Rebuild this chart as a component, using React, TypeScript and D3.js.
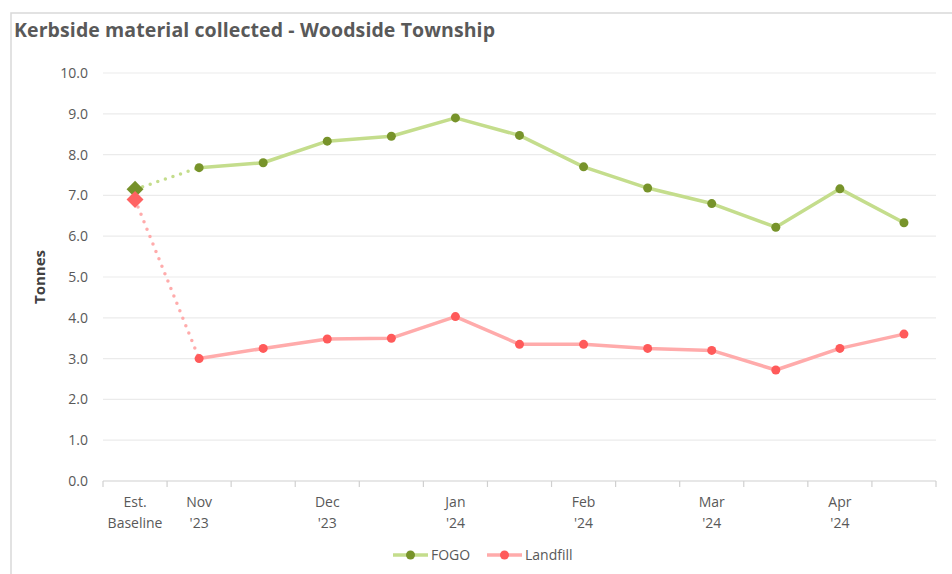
import React from "react";
import * as d3 from "d3";

const categories = ["Est. Baseline", "Nov '23", "", "Dec '23", "", "Jan '24", "", "Feb '24", "", "Mar '24", "", "Apr '24", ""];
const fogo = [7.15, 7.68, 7.8, 8.33, 8.45, 8.9, 8.47, 7.7, 7.18, 6.8, 6.22, 7.16, 6.33];
const landfill = [6.9, 3.0, 3.25, 3.48, 3.5, 4.03, 3.35, 3.35, 3.25, 3.2, 2.72, 3.25, 3.6];
const yTicks = [0, 1, 2, 3, 4, 5, 6, 7, 8, 9, 10];

const series = [
  { name: "FOGO", values: fogo, line: "#c4dd8c", marker: "#77932a", diamond: "#76912a" },
  { name: "Landfill", values: landfill, line: "#ffabab", marker: "#ff5a5a", diamond: "#ff6262" },
];

const W = 952, H = 574;
const left = 103, right = 936, top = 73, bottom = 481;
const font = "'Open Sans', 'Noto Sans', sans-serif";

export default function App() {
  const x = d3.scaleBand<number>().domain(categories.map((_, i) => i)).range([left, right]);
  const y = d3.scaleLinear().domain([0, 10]).range([bottom, top]);
  const cx = (i: number) => (x(i) as number) + x.bandwidth() / 2;
  const line = d3.line<number>().x((_, i) => cx(i + 1)).y((d) => y(d));
  const ticksX = d3.range(categories.length + 1).map((i) => left + i * x.step());

  return (
    <svg width={W} height={H} style={{ position: "absolute", left: 0, top: 0, background: "#fff" }}>
      <rect x={11} y={13} width={W + 10} height={H + 10} fill="none" stroke="#d9d9d9" strokeWidth={1.5} />
      <text x={14} y={37} fontFamily={font} fontWeight={700} fontSize={19.5} fill="#595959" textLength={481} lengthAdjust="spacing">
        Kerbside material collected - Woodside Township
      </text>
      {yTicks.map((t) => (
        <g key={t}>
          {t > 0 && <line x1={left} x2={right} y1={y(t)} y2={y(t)} stroke="#ebebeb" strokeWidth={1.2} />}
          <text x={88} y={y(t) + 5} textAnchor="end" fontFamily={font} fontSize={14} fill="#595959">
            {t.toFixed(1)}
          </text>
        </g>
      ))}
      <text transform={`translate(45,${(top + bottom) / 2}) rotate(-90)`} textAnchor="middle" fontFamily={font} fontWeight={700} fontSize={15} fill="#404040">
        Tonnes
      </text>
      <line x1={left} x2={right} y1={bottom} y2={bottom} stroke="#d0d0d0" strokeWidth={1.2} />
      {ticksX.map((tx, i) => (
        <line key={i} x1={tx} x2={tx} y1={bottom} y2={bottom + 6} stroke="#d0d0d0" strokeWidth={1.2} />
      ))}
      {categories.map((c, i) =>
        c ? (
          <text key={i} textAnchor="middle" fontFamily={font} fontSize={14} fill="#595959">
            {c.split(" ").map((p, j) => (
              <tspan key={j} x={cx(i)} y={507 + j * 21}>{p}</tspan>
            ))}
          </text>
        ) : null
      )}
      {series.map((s) => (
        <g key={s.name}>
          <line x1={cx(0)} y1={y(s.values[0])} x2={cx(1)} y2={y(s.values[1])} stroke={s.line} strokeWidth={3.5} strokeDasharray="0 8" strokeLinecap="round" />
          <path d={line(s.values.slice(1)) || ""} fill="none" stroke={s.line} strokeWidth={3.5} strokeLinejoin="round" />
          {s.values.slice(1).map((v, i) => (
            <circle key={i} cx={cx(i + 1)} cy={y(v)} r={4.5} fill={s.marker} />
          ))}
        </g>
      ))}
      {series.map((s) => (
        <rect key={s.name} x={cx(0) - 6} y={y(s.values[0]) - 6} width={12} height={12} fill={s.diamond} transform={`rotate(45 ${cx(0)} ${y(s.values[0])})`} />
      ))}
      {series.map((s, k) => {
        const lx = k === 0 ? 393 : 487;
        return (
          <g key={s.name}>
            <line x1={lx} x2={lx + 35} y1={555} y2={555} stroke={s.line} strokeWidth={3.5} />
            <circle cx={lx + 17.5} cy={555} r={4.5} fill={s.marker} />
            <text x={lx + 38} y={560} fontFamily={font} fontSize={14} fill="#595959">{s.name}</text>
          </g>
        );
      })}
    </svg>
  );
}
